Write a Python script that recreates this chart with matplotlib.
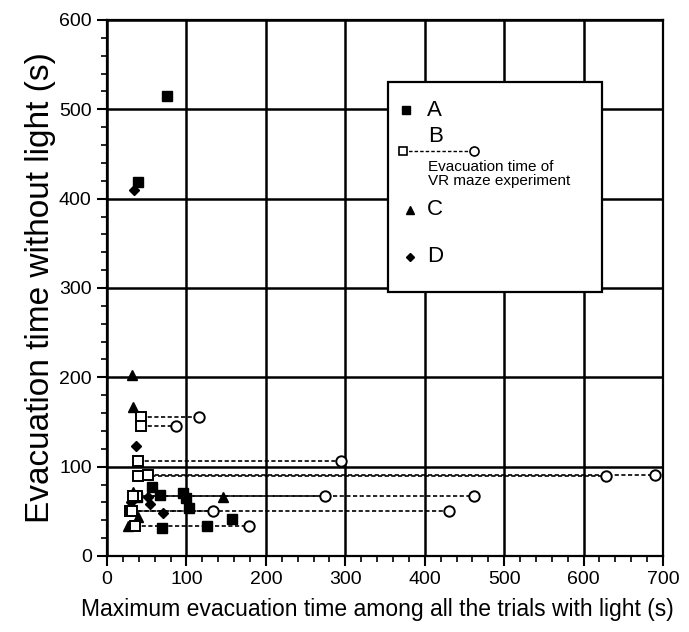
import matplotlib
matplotlib.use("Agg")
import matplotlib.pyplot as plt
from matplotlib.patches import Rectangle
from matplotlib.ticker import MultipleLocator

plt.rcParams['font.family'] = ['Liberation Sans', 'DejaVu Sans']

# A: filled squares (x = max time with light, y = time without light)
a_x = [75, 39, 57, 67, 96, 99, 103, 157, 126, 69, 38]
a_y = [515, 419, 77, 68, 71, 65, 54, 41, 33, 31, 66]

# B: open squares joined to the VR maze time (open circles) at the same y
b_x = [43, 43, 39, 39, 52, 38, 33, 29, 31, 35]
b_y = [156, 145, 106, 89, 91, 67, 67, 50, 50, 33]
b_vr = [116, 87, 295, 628, 690, 275, 462, 134, 431, 179]

# C: triangles
c_x = [31, 33, 33, 146, 27, 39]
c_y = [203, 167, 72, 66, 33, 44]

# D: diamonds
d_x = [34, 37, 52, 54, 70, 30]
d_y = [410, 123, 66, 58, 48, 60]

x_ticks = [0, 100, 200, 300, 400, 500, 600, 700]
y_ticks = [0, 100, 200, 300, 400, 500, 600]

fig = plt.figure(figsize=(6.89, 6.32), dpi=100)
ax = fig.add_axes([0.1553, 0.1203, 0.807, 0.8481])

ax.set_xlim(0, 700)
ax.set_ylim(0, 600)
ax.set_xticks(x_ticks)
ax.set_yticks(y_ticks)
ax.xaxis.set_minor_locator(MultipleLocator(20))
ax.yaxis.set_minor_locator(MultipleLocator(20))
ax.tick_params(which='major', direction='out', length=7, width=1.5, labelsize=14, pad=4)
ax.tick_params(which='minor', direction='out', length=4, width=1.2)
for s in ax.spines.values():
    s.set_linewidth(1.6)
ax.grid(True, which='major', color='black', linewidth=1.8)
ax.set_axisbelow(True)

# dashed links between B and VR maze time
for x0, y0, x1 in zip(b_x, b_y, b_vr):
    ax.plot([x0, x1], [y0, y0], color='black', lw=1.2, ls=(0, (2.5, 1.5)), zorder=3)

ms = 6.5
ax.plot(a_x, a_y, 's', color='black', ms=ms, zorder=4)
ax.plot(b_x, b_y, 's', mfc='white', mec='black', mew=1.4, ms=ms, zorder=5)
ax.plot(b_vr, b_y, 'o', mfc='white', mec='black', mew=1.4, ms=ms + 1, zorder=5)
ax.plot(c_x, c_y, '^', color='black', ms=ms, zorder=4)
ax.plot(d_x, d_y, 'D', color='black', ms=ms - 1.5, zorder=4)

ax.set_xlabel('Maximum evacuation time among all the trials with light (s)', fontsize=16.5)
ax.xaxis.set_label_coords(0.487, -0.078)
ax.set_ylabel('Evacuation time without light (s)', fontsize=24, labelpad=2)

# hand-drawn legend box
tr = ax.transAxes
ax.add_patch(Rectangle((0.505, 0.4925), 0.385, 0.3915, transform=tr, facecolor='white',
                       edgecolor='black', lw=1.6, zorder=6))
ax.plot([0.538], [0.832], 's', color='black', ms=6, transform=tr, zorder=7)
ax.text(0.575, 0.832, 'A', transform=tr, fontsize=16, va='center', zorder=7)
ax.text(0.578, 0.782, 'B', transform=tr, fontsize=16, va='center', zorder=7)
ax.plot([0.532, 0.660], [0.756, 0.756], color='black', lw=1.0, ls=(0, (2.5, 1.5)),
        transform=tr, zorder=7)
ax.plot([0.532], [0.756], 's', mfc='white', mec='black', mew=1.2, ms=5.5, transform=tr, zorder=8)
ax.plot([0.660], [0.756], 'o', mfc='white', mec='black', mew=1.2, ms=6.5, transform=tr, zorder=8)
ax.text(0.578, 0.713, 'Evacuation time of\nVR maze experiment', transform=tr, fontsize=11,
        va='center', linespacing=1.0, zorder=7)
ax.plot([0.545], [0.646], '^', color='black', ms=6, transform=tr, zorder=7)
ax.text(0.575, 0.646, 'C', transform=tr, fontsize=16, va='center', zorder=7)
ax.plot([0.545], [0.558], 'D', color='black', ms=4.5, transform=tr, zorder=7)
ax.text(0.575, 0.558, 'D', transform=tr, fontsize=16, va='center', zorder=7)

fig.savefig('out.png', dpi=100)
